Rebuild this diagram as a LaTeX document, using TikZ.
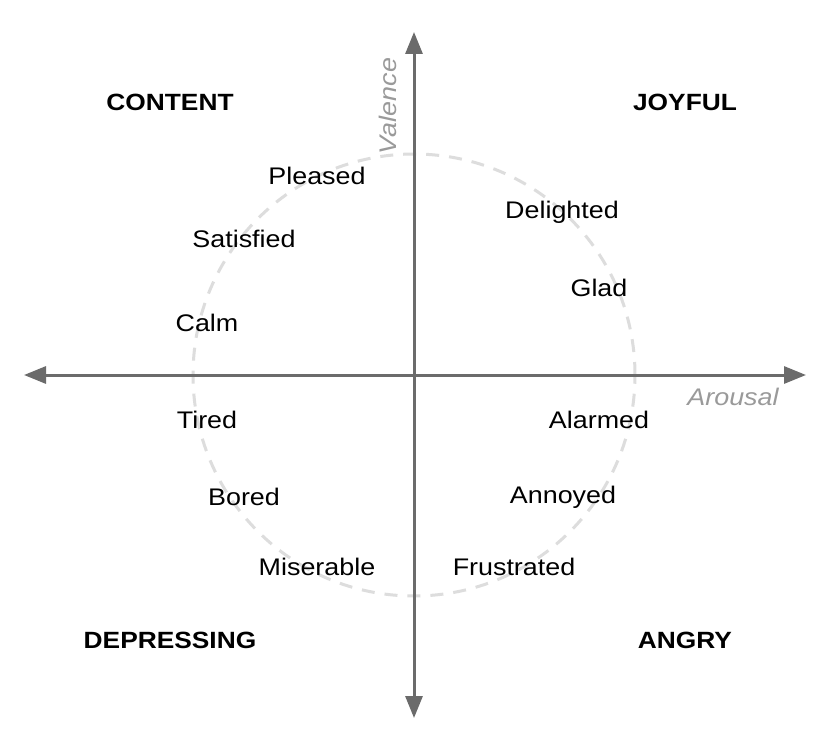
\documentclass[tikz,border=0pt]{standalone}
\usepackage{fontspec}
\setmainfont{Liberation Sans}[FakeStretch=1.12]
\usetikzlibrary{arrows.meta}
\definecolor{axisgray}{HTML}{6B6B6B}
\definecolor{labelgray}{HTML}{9A9A9A}
\definecolor{circgray}{HTML}{DDDDDD}
\tikzset{
  axis/.style={draw=axisgray, line width=3pt, {Triangle[length=22pt,width=17pt]}-{Triangle[length=22pt,width=17pt]}},
  emo/.style={font=\fontsize{24}{28}\selectfont, text=black, inner sep=0pt},
  quad/.style={font=\fontsize{23.5}{28}\selectfont\bfseries, text=black, inner sep=0pt},
  axlabel/.style={font=\fontsize{24}{28}\selectfont\itshape, text=labelgray, inner sep=0pt},
}
\begin{document}
\begin{tikzpicture}[x=1pt,y=-1pt]
\useasboundingbox[fill=white] (0,0) rectangle (830,752);
\coordinate (O) at (414,375);
\draw[circgray, line width=3pt, dash pattern=on 13pt off 10pt] (O) circle (221pt);
\coordinate (L) at (24,375);
\coordinate (R) at (806,375);
\coordinate (T) at (414,32);
\coordinate (B) at (414,718);
\draw[axis] (L) -- (R);
\draw[axis] (B) -- (T);
\node[axlabel, rotate=90] (val) at (388,106) {Valence};
\node[axlabel] (aro) at (733,397) {Arousal};
\node[quad] (content) at (170,102) {CONTENT};
\node[quad] (joyful) at (685,102) {JOYFUL};
\node[quad] (depr) at (170,640) {DEPRESSING};
\node[quad] (angry) at (685,640) {ANGRY};
\node[emo] (pleased) at (317,176) {Pleased};
\node[emo] (satisfied) at (244,239) {Satisfied};
\node[emo] (calm) at (207,323) {Calm};
\node[emo] (delighted) at (562,212) {Delighted};
\node[emo] (glad) at (599,288) {Glad};
\node[emo] (alarmed) at (599,420) {Alarmed};
\node[emo] (annoyed) at (563,497) {Annoyed};
\node[emo] (frustrated) at (514,567) {Frustrated};
\node[emo] (tired) at (207,420) {Tired};
\node[emo] (bored) at (244,497) {Bored};
\node[emo] (miserable) at (317,567) {Miserable};
\end{tikzpicture}
\end{document}
